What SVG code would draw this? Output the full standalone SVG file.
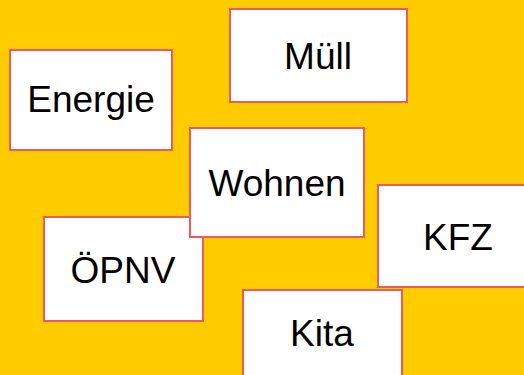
<svg xmlns="http://www.w3.org/2000/svg" width="524" height="375" viewBox="0 0 524 375">
  <style>
    .card rect { fill: #ffffff; stroke: #f05a5a; stroke-width: 2; }
    .card text { font-family: "Liberation Sans", Arial, sans-serif; font-size: 37px; fill: #000000; text-anchor: middle; }
  </style>
  <rect x="0" y="0" width="524" height="375" fill="#ffcc00"/>
  <g id="connectors"/>
  <g id="energie" class="card">
    <rect x="10" y="50" width="162" height="100"/>
    <text x="91" y="112">Energie</text>
  </g>
  <g id="muell" class="card">
    <rect x="230" y="9" width="177" height="93"/>
    <text x="318" y="69">Müll</text>
  </g>
  <g id="oepnv" class="card">
    <rect x="44" y="217" width="159" height="104"/>
    <text x="123" y="283">ÖPNV</text>
  </g>
  <g id="wohnen" class="card">
    <rect x="190" y="128" width="174" height="109"/>
    <text x="277" y="196">Wohnen</text>
  </g>
  <g id="kfz" class="card">
    <rect x="378" y="185" width="160" height="102"/>
    <text x="458" y="250">KFZ</text>
  </g>
  <g id="kita" class="card">
    <rect x="243" y="290" width="159" height="100"/>
    <text x="322" y="346">Kita</text>
  </g>
</svg>
